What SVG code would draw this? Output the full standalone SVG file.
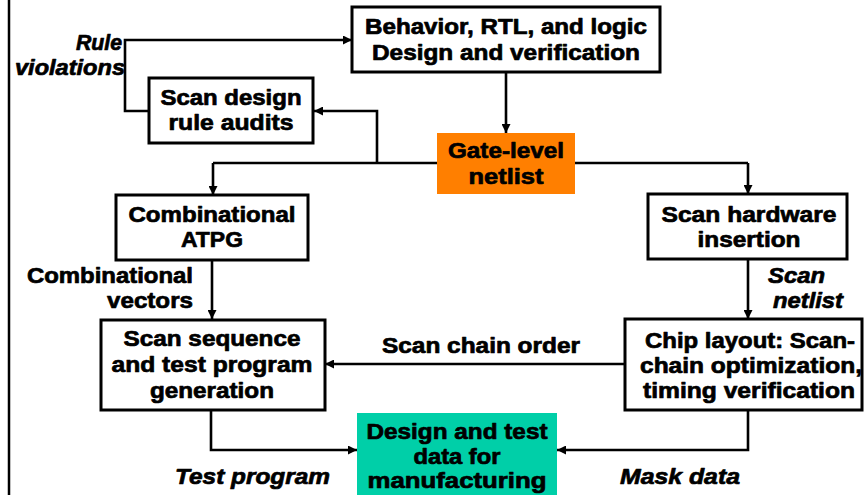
<svg xmlns="http://www.w3.org/2000/svg" width="864" height="495" viewBox="0 0 864 495">
  <defs>
    <marker id="arrow" viewBox="0 0 10 10" refX="10" refY="5" markerWidth="9" markerHeight="9" markerUnits="userSpaceOnUse" orient="auto">
      <path d="M0,0 L10,5 L0,10 z" fill="#000"/>
    </marker>
    <style>
      .box { fill: #fff; stroke: #000; stroke-width: 3; }
      .t { font-family: "Liberation Sans", Arial, sans-serif; font-weight: bold; font-size: 22px; fill: #000; stroke: #000; stroke-width: 0.7; stroke-linejoin: round; }
      .it { font-style: italic; }
      .c { text-anchor: middle; }
      .r { text-anchor: end; }
      .wire { fill: none; stroke: #000; stroke-width: 2.6; }
      .arr { marker-end: url(#arrow); }
    </style>
  </defs>
  <rect width="864" height="495" fill="#fff"/>
  <!-- page frame edge -->
  <line x1="9" y1="0" x2="9" y2="495" stroke="#000" stroke-width="2.5"/>

  <g id="connectors">
    <path class="wire" d="M213,163 H748"/>
    <path class="wire arr" d="M506,72 V133"/>
    <path class="wire arr" d="M213,163 V195"/>
    <path class="wire arr" d="M748,163 V194"/>
    <path class="wire arr" d="M377,163 V111 H314"/>
    <path class="wire arr" d="M149,111 H125 V40 H352"/>
    <path class="wire arr" d="M212,260 V319"/>
    <path class="wire arr" d="M748,259 V319"/>
    <path class="wire arr" d="M625,364 H325"/>
    <path class="wire arr" d="M211,410 V450 H357"/>
    <path class="wire arr" d="M748,410 V450 H557"/>
  </g>

  <g id="behavior">
    <rect class="box" x="352" y="7" width="308" height="65"/>
    <text class="t c" x="506" y="34" textLength="282" lengthAdjust="spacingAndGlyphs">Behavior, RTL, and logic</text>
    <text class="t c" x="506" y="60" textLength="268" lengthAdjust="spacingAndGlyphs">Design and verification</text>
  </g>

  <g id="rule-audits">
    <rect class="box" x="149" y="78" width="164" height="65"/>
    <text class="t c" x="231" y="105" textLength="141" lengthAdjust="spacingAndGlyphs">Scan design</text>
    <text class="t c" x="231" y="130" textLength="125" lengthAdjust="spacingAndGlyphs">rule audits</text>
  </g>

  <g id="netlist">
    <rect x="437" y="133" width="138" height="61" fill="#ff7f00"/>
    <text class="t c" x="506" y="158" textLength="116" lengthAdjust="spacingAndGlyphs">Gate-level</text>
    <text class="t c" x="506" y="184" textLength="75" lengthAdjust="spacingAndGlyphs">netlist</text>
  </g>

  <g id="atpg">
    <rect class="box" x="116" y="195" width="192" height="65"/>
    <text class="t c" x="212" y="222" textLength="167" lengthAdjust="spacingAndGlyphs">Combinational</text>
    <text class="t c" x="212" y="247" textLength="62" lengthAdjust="spacingAndGlyphs">ATPG</text>
  </g>

  <g id="scan-insertion">
    <rect class="box" x="648" y="194" width="199" height="65"/>
    <text class="t c" x="749" y="222" textLength="175" lengthAdjust="spacingAndGlyphs">Scan hardware</text>
    <text class="t c" x="749" y="247" textLength="103" lengthAdjust="spacingAndGlyphs">insertion</text>
  </g>

  <g id="sequence">
    <rect class="box" x="101" y="320" width="224" height="90"/>
    <text class="t c" x="212" y="346" textLength="177" lengthAdjust="spacingAndGlyphs">Scan sequence</text>
    <text class="t c" x="212" y="372" textLength="201" lengthAdjust="spacingAndGlyphs">and test program</text>
    <text class="t c" x="212" y="398" textLength="124" lengthAdjust="spacingAndGlyphs">generation</text>
  </g>

  <g id="layout">
    <rect class="box" x="625" y="319" width="237" height="91"/>
    <text class="t c" x="750" y="348" textLength="210" lengthAdjust="spacingAndGlyphs">Chip layout: Scan-</text>
    <text class="t c" x="751" y="373" textLength="222" lengthAdjust="spacingAndGlyphs">chain optimization,</text>
    <text class="t c" x="749" y="398" textLength="212" lengthAdjust="spacingAndGlyphs">timing verification</text>
  </g>

  <g id="manufacturing">
    <rect x="357" y="413" width="200" height="82" fill="#00cfa8"/>
    <text class="t c" x="457" y="439" font-size="27" textLength="181" lengthAdjust="spacingAndGlyphs">Design and test</text>
    <text class="t c" x="457" y="464" font-size="27" textLength="87" lengthAdjust="spacingAndGlyphs">data for</text>
    <text class="t c" x="457" y="488" font-size="27" textLength="179" lengthAdjust="spacingAndGlyphs">manufacturing</text>
  </g>

  <g id="labels">
    <text class="t it r" x="122" y="50" textLength="46" lengthAdjust="spacingAndGlyphs">Rule</text>
    <text class="t it r" x="125" y="75" textLength="110" lengthAdjust="spacingAndGlyphs">violations</text>
    <text class="t r" x="193" y="283" textLength="166" lengthAdjust="spacingAndGlyphs">Combinational</text>
    <text class="t r" x="193" y="308" textLength="86" lengthAdjust="spacingAndGlyphs">vectors</text>
    <text class="t it" x="768" y="283" textLength="57" lengthAdjust="spacingAndGlyphs">Scan</text>
    <text class="t it" x="773" y="308" textLength="70" lengthAdjust="spacingAndGlyphs">netlist</text>
    <text class="t c" x="481" y="353" textLength="198" lengthAdjust="spacingAndGlyphs">Scan chain order</text>
    <text class="t it" x="175" y="484" font-size="24" textLength="155" lengthAdjust="spacingAndGlyphs">Test program</text>
    <text class="t it" x="620" y="484" font-size="24" textLength="120" lengthAdjust="spacingAndGlyphs">Mask data</text>
  </g>
</svg>
